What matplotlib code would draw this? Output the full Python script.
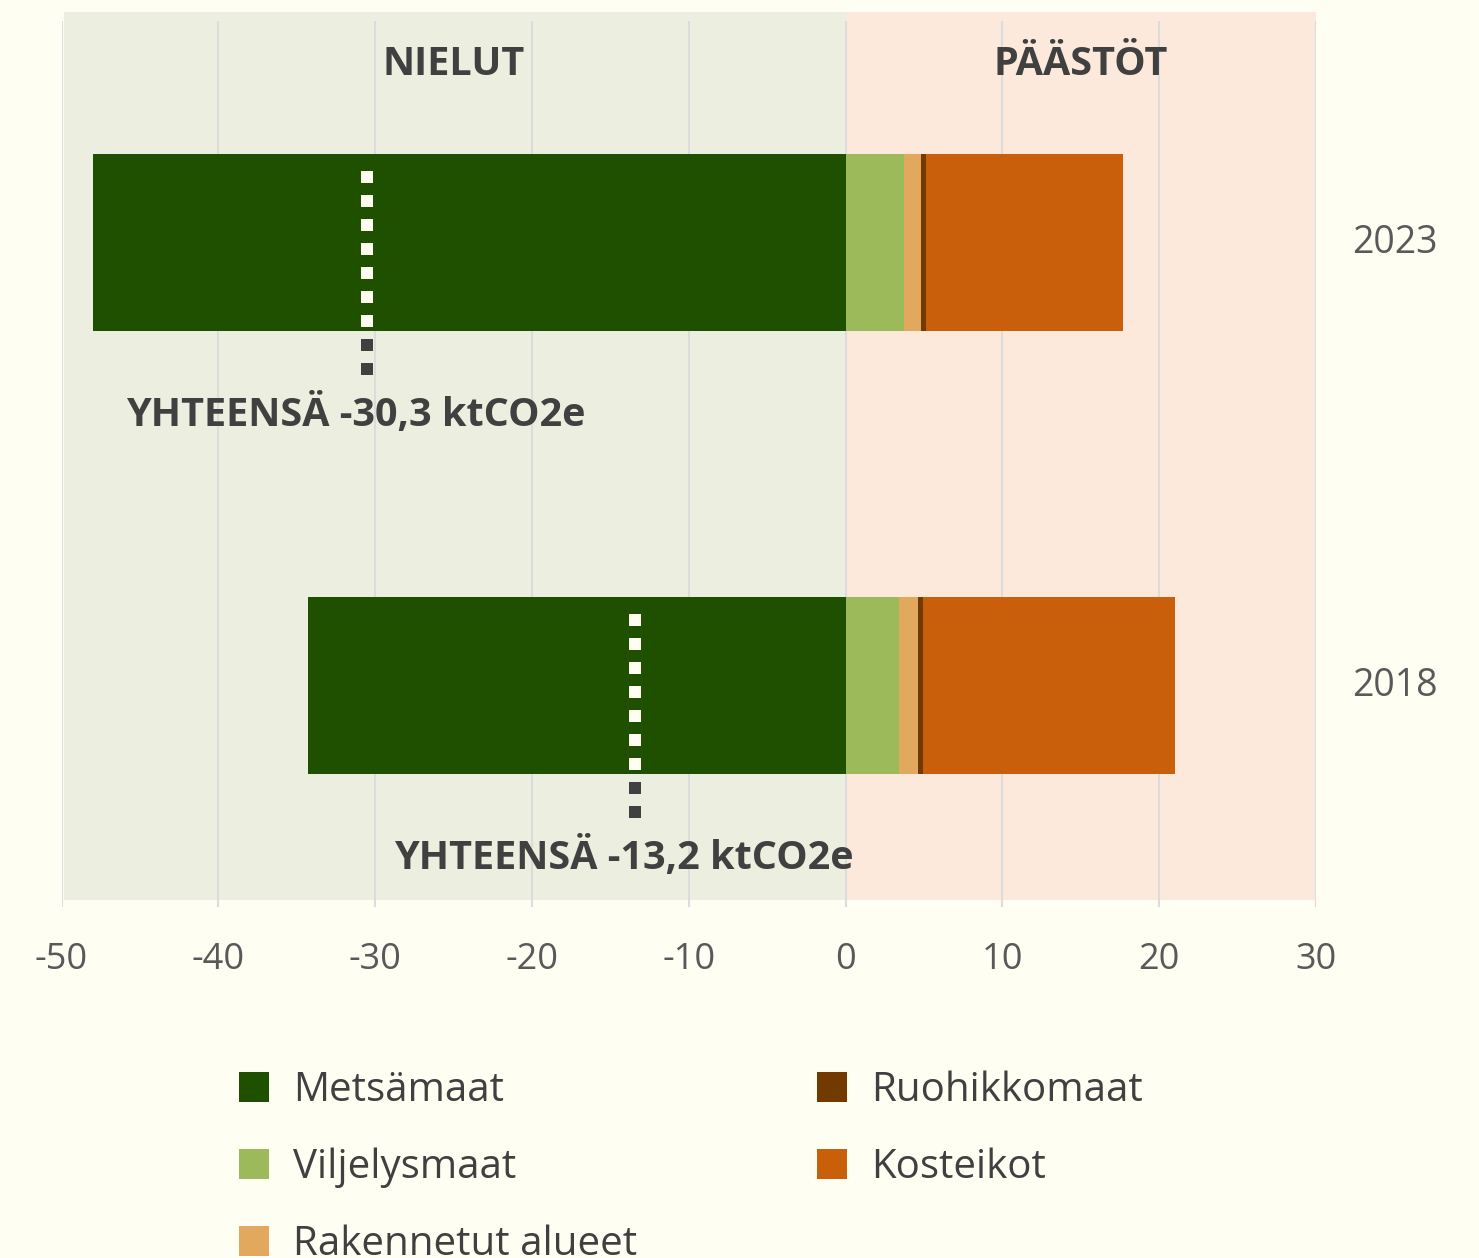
import matplotlib
matplotlib.use("Agg")
import matplotlib.pyplot as plt
import matplotlib.transforms as mtransforms
from matplotlib.patches import Rectangle
import numpy as np

# ---------------- data ----------------
years = ["2018", "2023"]
categories = ["Metsämaat", "Viljelysmaat", "Rakennetut alueet", "Ruohikkomaat", "Kosteikot"]
metsamaat = [-34.25, -48.0]
viljelysmaat = [3.38, 3.70]
rakennetut = [1.21, 1.08]
ruohikkomaat = [0.38, 0.38]
kosteikot = [16.05, 12.52]
total_labels = ["YHTEENSÄ -13,2 ktCO2e", "YHTEENSÄ -30,3 ktCO2e"]
section_labels = ["NIELUT", "PÄÄSTÖT"]
section_x = [-25, 15]
xticks = [-50, -40, -30, -20, -10, 0, 10, 20, 30]
xtick_labels = ["-50", "-40", "-30", "-20", "-10", "0", "10", "20", "30"]

colors = ["#1E5000", "#9DBA5A", "#E2A85E", "#733A00", "#C95F0A"]
BG = "#FFFEF3"
SHADE_NEG = "#ECEFE0"
SHADE_POS = "#FDE9DC"
GRID = "#DCDCDC"
DARK = "#404040"
GREY = "#595959"

plt.rcParams["font.family"] = ["Open Sans", "DejaVu Sans"]
plt.rcParams["axes.unicode_minus"] = False

W, H = 1479, 1258
fig = plt.figure(figsize=(W / 100, H / 100), dpi=100, facecolor=BG)
ax = fig.add_axes([61.5 / W, 1 - 907 / H, (1316 - 61.5) / W, 886 / H])
ax.set_facecolor("none")

y = np.arange(len(years))
bar_h = 0.4

# background shading (NIELUT / PÄÄSTÖT)
trans = mtransforms.blended_transform_factory(ax.transData, ax.transAxes)
ax.add_patch(Rectangle((-49.84, 0.0079), 49.84, 1.0102 - 0.0079, transform=trans,
                       facecolor=SHADE_NEG, edgecolor="none", zorder=0, clip_on=False))
ax.add_patch(Rectangle((0, 0.0079), 30, 1.0102 - 0.0079, transform=trans,
                       facecolor=SHADE_POS, edgecolor="none", zorder=0, clip_on=False))

# bars
bars_m = ax.barh(y, metsamaat, height=bar_h, color=colors[0], zorder=2)
left = np.zeros(len(years))
for vals, c in zip([viljelysmaat, rakennetut, ruohikkomaat, kosteikot], colors[1:]):
    ax.barh(y, vals, left=left, height=bar_h, color=c, zorder=2)
    left = left + np.array(vals)

net = np.array(metsamaat) + np.array(viljelysmaat) + np.array(rakennetut) + \
    np.array(ruohikkomaat) + np.array(kosteikot)

lw = 12 * 72 / 100
for i in range(len(years)):
    ys = [y[i] + 0.161, y[i] - 0.32]
    ax.plot([net[i] - 0.2, net[i] - 0.2], ys, color=DARK, lw=lw, linestyle=(0, (1, 1)),
            dash_capstyle="butt", zorder=3)
    wl, = ax.plot([net[i] - 0.2, net[i] - 0.2], ys, color=BG, lw=lw, linestyle=(0, (1, 1)),
                  dash_capstyle="butt", zorder=4)
    wl.set_clip_path(bars_m.patches[i])
    ax.annotate(total_labels[i], xy=(net[i], y[i] - 0.414), xytext=(-10, 0),
                textcoords="offset points", ha="center", va="baseline",
                fontsize=28.5, fontweight="bold", color=DARK, zorder=5)

# section labels
for lab, sx in zip(section_labels, section_x):
    ax.text(sx, 0.939, lab, transform=trans, ha="center", va="baseline",
            fontsize=28.5, fontweight="bold", color=DARK)

# year labels on the right
transy = mtransforms.blended_transform_factory(ax.transAxes, ax.transData)
for i, yr in enumerate(years):
    ax.text(1.063, y[i] - 0.0245, yr, transform=transy, ha="center", va="baseline",
            fontsize=27, color=GREY)

ax.set_xlim(-50, 30)
ax.set_ylim(-0.5, 1.5)
ax.set_xticks(xticks)
ax.set_xticklabels(xtick_labels)
ax.set_yticks([])
ax.tick_params(axis="x", length=0, pad=25, labelsize=26, labelcolor=GREY)
ax.grid(axis="x", color=GRID, lw=1.5)
ax.set_axisbelow(True)
for s in ax.spines.values():
    s.set_visible(False)

# legend (two columns)
def fx(px):
    return px / W

def fy(py):
    return 1 - py / H

col_x = [239, 817]
row_base = [1101, 1178, 1255]
for k, (lab, c) in enumerate(zip(categories, colors)):
    col, row = k // 3, k % 3
    x0 = col_x[col]
    b = row_base[row]
    fig.add_artist(Rectangle((fx(x0), fy(b + 1)), 30 / W, 30 / H,
                             transform=fig.transFigure, facecolor=c, edgecolor="none"))
    fig.text(fx(x0 + 54), fy(b), lab, ha="left", va="baseline", fontsize=29, color=DARK)

fig.savefig("out.png", dpi=100, facecolor=BG)
